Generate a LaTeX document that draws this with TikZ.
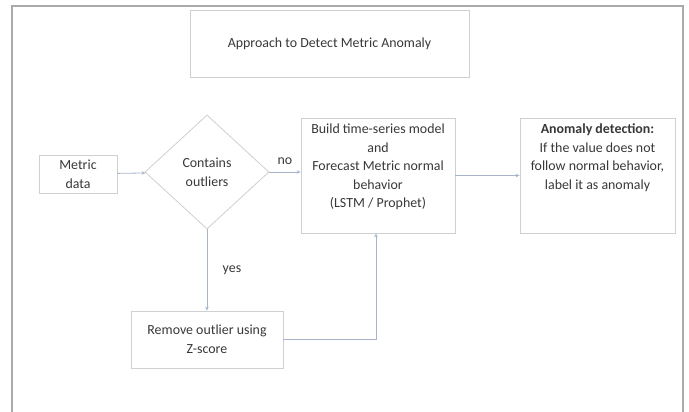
\documentclass[tikz,border=0pt]{standalone}
\usepackage{fontspec}
\setmainfont{Carlito}
\usetikzlibrary{shapes.geometric,arrows.meta}
\definecolor{boxline}{RGB}{208,208,208}
\definecolor{frameline}{RGB}{170,170,170}
\definecolor{flowline}{RGB}{168,180,204}
\definecolor{ink}{RGB}{56,56,56}

\begin{document}
\begin{tikzpicture}[x=1pt,y=-1pt,
  every node/.style={text=ink,font=\fontsize{13.9}{18.6}\selectfont},
  stepbox/.style={draw=boxline,line width=0.8pt,fill=white,inner sep=0pt,align=center},
  flow/.style={draw=flowline,line width=0.8pt,-{Stealth[length=4pt,width=3.5pt]}}]

\useasboundingbox (0,0) rectangle (689,412);

% outer frame, open at the bottom
\draw[frameline,line width=2pt] (12,420) -- (12,6) -- (683,6) -- (683,420);

\node[stepbox,minimum width=279,minimum height=67] (title) at (329.5,43.5)
  {Approach to Detect Metric Anomaly};

\node[stepbox,minimum width=78,minimum height=38] (metric) at (78,174)
  {Metric\\data};
\node[stepbox,shape=diamond,minimum width=124,minimum height=114] (outliers) at (207,172)
  {Contains\\outliers};

\node[stepbox,minimum width=154,minimum height=115] (model) at (378,175.5) {};
\node[align=center,anchor=north,inner sep=0pt] (modeltxt) at ([yshift=-6]model.north)
  {Build time-series model\\and\\Forecast Metric normal\\behavior\\(LSTM / Prophet)};

\node[stepbox,minimum width=155,minimum height=115] (detect) at (597.5,175.5) {};
\node[align=center,anchor=north,inner sep=0pt] (detecttxt) at ([yshift=-6]detect.north)
  {\textbf{Anomaly detection:}\\If the value does not\\follow normal behavior,\\label it as anomaly};

\node[stepbox,minimum width=152,minimum height=57] (remove) at (207,339.5)
  {Remove outlier using\\Z-score};

\draw[flow] (metric) -- (outliers);
\draw[flow] (outliers.east) -- (outliers.east -| model.west)
  node[midway,above=4pt] (no) {no};
\draw[flow] (model) -- (detect);
\draw[flow] (outliers.south) -- (remove.north)
  node[midway,right=12pt] (yes) {yes};
\draw[flow] (remove.east) -| ([xshift=-2]model.south);
\end{tikzpicture}
\end{document}
